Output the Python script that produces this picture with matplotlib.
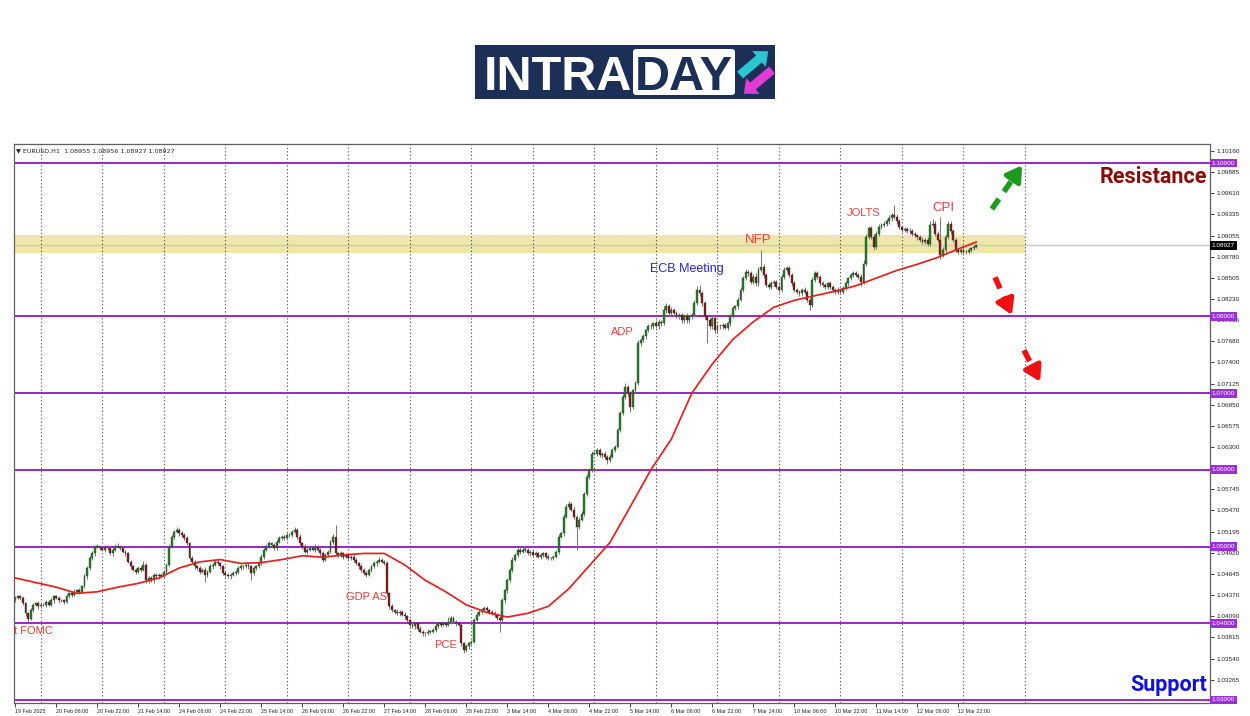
import matplotlib
matplotlib.use("Agg")
import matplotlib.pyplot as plt
import matplotlib.transforms as mtransforms
from matplotlib.patches import Rectangle, FancyArrow, FancyBboxPatch
import numpy as np

# ---------------- data (EURUSD H1) ----------------
first_open = 1.0431
close = [
    1.0433,1.0435,1.0433,1.0426,1.0413,1.0406,1.0417,1.0424,1.0426,1.0422,1.0424,1.0424,1.0428,1.0424,1.0430,1.0435,
    1.0433,1.0430,1.0430,1.0428,1.0435,1.0439,1.0437,1.0441,1.0443,1.0441,1.0448,1.0461,1.0472,1.0485,1.0491,1.0500,
    1.0500,1.0498,1.0496,1.0500,1.0498,1.0491,1.0496,1.0500,1.0500,1.0498,1.0493,1.0491,1.0480,1.0474,1.0470,1.0467,
    1.0472,1.0470,1.0476,1.0456,1.0459,1.0456,1.0463,1.0461,1.0463,1.0461,1.0467,1.0476,1.0500,1.0513,1.0519,1.0522,
    1.0517,1.0515,1.0511,1.0504,1.0485,1.0480,1.0474,1.0472,1.0467,1.0470,1.0463,1.0467,1.0474,1.0476,1.0480,1.0478,
    1.0474,1.0465,1.0463,1.0461,1.0463,1.0465,1.0467,1.0472,1.0474,1.0474,1.0476,1.0474,1.0465,1.0472,1.0474,1.0478,
    1.0487,1.0496,1.0500,1.0504,1.0502,1.0498,1.0506,1.0511,1.0513,1.0511,1.0515,1.0515,1.0519,1.0522,1.0513,1.0504,
    1.0500,1.0493,1.0496,1.0498,1.0496,1.0500,1.0496,1.0491,1.0483,1.0489,1.0493,1.0506,1.0513,1.0491,1.0489,1.0491,
    1.0487,1.0489,1.0485,1.0487,1.0483,1.0478,1.0474,1.0470,1.0465,1.0463,1.0470,1.0474,1.0478,1.0480,1.0483,1.0480,
    1.0478,1.0439,1.0422,1.0417,1.0415,1.0413,1.0415,1.0411,1.0409,1.0404,1.0398,1.0396,1.0400,1.0393,1.0389,1.0387,
    1.0387,1.0389,1.0389,1.0391,1.0396,1.0400,1.0398,1.0400,1.0398,1.0402,1.0407,1.0402,1.0400,1.0398,1.0374,1.0365,
    1.0370,1.0374,1.0376,1.0404,1.0411,1.0415,1.0417,1.0420,1.0417,1.0415,1.0413,1.0411,1.0407,1.0404,1.0430,1.0443,
    1.0456,1.0470,1.0483,1.0489,1.0496,1.0493,1.0496,1.0496,1.0491,1.0493,1.0489,1.0491,1.0487,1.0489,1.0491,1.0487,
    1.0485,1.0485,1.0487,1.0493,1.0513,1.0517,1.0539,1.0552,1.0556,1.0548,1.0539,1.0526,1.0535,1.0543,1.0569,1.0591,
    1.0600,1.0621,1.0621,1.0626,1.0619,1.0621,1.0617,1.0613,1.0617,1.0626,1.0630,1.0652,1.0674,1.0695,1.0708,1.0700,
    1.0682,1.0704,1.0713,1.0765,1.0769,1.0774,1.0782,1.0787,1.0787,1.0791,1.0787,1.0793,1.0791,1.0808,1.0813,1.0804,
    1.0808,1.0804,1.0800,1.0802,1.0795,1.0800,1.0795,1.0800,1.0802,1.0817,1.0835,1.0830,1.0817,1.0800,1.0795,1.0787,
    1.0798,1.0782,1.0787,1.0787,1.0789,1.0785,1.0791,1.0800,1.0811,1.0813,1.0822,1.0835,1.0850,1.0858,1.0856,1.0845,
    1.0852,1.0843,1.0861,1.0865,1.0854,1.0841,1.0839,1.0843,1.0845,1.0839,1.0835,1.0852,1.0861,1.0863,1.0854,1.0843,
    1.0835,1.0832,1.0830,1.0835,1.0832,1.0822,1.0815,1.0848,1.0856,1.0852,1.0843,1.0841,1.0839,1.0843,1.0839,1.0835,
    1.0832,1.0835,1.0832,1.0837,1.0843,1.0850,1.0854,1.0856,1.0854,1.0852,1.0845,1.0869,1.0904,1.0915,1.0904,1.0891,
    1.0908,1.0917,1.0919,1.0921,1.0924,1.0928,1.0932,1.0930,1.0924,1.0917,1.0913,1.0914,1.0912,1.0911,1.0908,1.0906,
    1.0903,1.0900,1.0897,1.0900,1.0895,1.0919,1.0921,1.0908,1.0900,1.0880,1.0887,1.0904,1.0921,1.0911,1.0900,1.0887,
    1.0884,1.0887,1.0884,1.0884,1.0887,1.0889,1.0891,1.08927,
]
# upper / lower wick length beyond the body, in pips
up_wick = [
    3,2,2,3,2,2,3,2,2,3,2,3,2,2,3,2, 2,3,2,2,3,2,2,3,2,3,2,3,2,3,3,2,
    3,2,3,2,2,3,2,3,4,2,3,2,2,3,2,2, 3,2,5,2,3,2,2,3,2,2,3,2,3,2,3,3,
    2,3,2,3,2,3,2,2,3,2,3,2,3,2,2,3, 2,2,3,2,2,3,2,2,3,2,3,2,2,3,2,3,
    3,2,3,3,2,3,2,3,2,2,3,2,3,4,2,3, 2,3,2,3,2,3,2,2,3,2,3,3,3,15,2,3,
    2,3,2,2,3,2,2,3,2,3,2,2,3,3,4,2, 3,3,2,3,2,3,2,2,3,2,2,3,2,2,3,2,
    2,3,2,3,5,3,2,3,2,6,3,2,2,3,2,2, 3,2,2,3,3,2,3,2,3,2,2,3,2,2,3,2,
    3,2,3,2,3,3,4,3,2,3,2,3,2,3,2,2, 3,2,2,3,3,2,3,4,3,2,3,2,3,3,2,3,
    3,3,4,3,3,2,3,2,3,3,2,3,3,4,5,3, 3,2,3,4,3,3,2,3,3,2,4,3,2,5,4,3,
    4,3,3,2,3,3,4,2,3,4,5,6,3,3,2,3, 3,2,3,3,2,3,2,3,3,2,3,3,3,4,3,3,
    3,4,3,22,3,3,2,3,3,2,3,3,4,3,3,2, 3,2,3,2,3,3,2,3,3,3,2,3,3,2,3,2,
    2,3,2,3,3,2,3,3,3,2,3,4,4,3,3,3, 3,4,3,3,3,4,3,13,3,3,2,3,2,3,3,2,
    2,3,3,2,3,5,6,3,3,30,3,3,4,3,3,2, 2,2,2,3,2,2,2,2,
]
dn_wick = [
    3,2,3,2,3,4,2,3,2,3,2,2,3,2,2,3, 2,3,2,3,2,2,3,2,2,3,2,2,3,2,2,3,
    2,3,2,3,2,2,3,2,2,3,2,3,2,3,2,3, 2,3,2,3,4,2,3,2,3,2,2,3,2,2,3,2,
    3,2,3,2,3,2,3,2,3,2,9,3,2,3,2,2, 3,2,3,2,3,2,2,3,2,3,2,3,9,2,3,2,
    2,3,2,2,3,2,3,2,2,3,2,2,3,2,3,2, 3,2,3,2,2,3,2,3,3,2,3,2,3,2,3,2,
    3,2,3,2,3,2,3,3,2,3,2,3,2,3,2,2, 2,3,3,2,3,2,3,2,3,2,3,2,3,3,2,3,
    3,2,3,2,3,2,3,2,3,2,3,2,3,2,4,4, 3,3,2,2,3,2,3,2,2,3,2,3,3,15,2,3,
    3,2,3,2,2,3,2,3,2,3,2,3,2,3,2,3, 2,3,3,2,3,2,3,2,3,2,3,30,3,2,3,3,
    3,3,2,3,2,3,3,5,3,2,3,2,3,3,3,4, 6,3,2,3,3,2,3,2,3,3,2,3,3,2,3,3,
    3,3,2,3,3,3,4,3,3,3,2,3,3,4,30,3, 3,4,3,3,3,2,3,3,2,3,3,2,3,3,3,3,
    3,3,3,3,4,3,3,3,3,3,3,3,3,3,3,3, 3,3,3,3,3,3,7,3,3,3,3,3,3,3,3,3,
    3,3,3,3,3,3,3,3,3,3,5,3,3,3,3,4, 3,3,3,3,3,3,3,3,3,3,3,3,3,3,3,3,
    3,3,3,3,3,3,3,3,3,5,3,3,3,3,3,3, 3,3,3,3,2,3,3,2,
]
# moving average (red line), sampled every 8 bars
ma_idx = list(range(0, 369, 8)) + [375]
ma_val = [1.0459,1.0453,1.0447,1.0439,1.0441,1.0447,1.0452,1.0459,1.0472,1.0480,1.0483,1.0478,
          1.0479,1.0483,1.0488,1.0486,1.0489,1.0491,1.0491,1.0476,1.0456,1.0441,1.0424,1.0414,
          1.0408,1.0413,1.0422,1.0445,1.0475,1.0505,1.0552,1.0600,1.0640,1.0700,1.0738,1.0770,
          1.0793,1.0812,1.0821,1.0827,1.0833,1.0840,1.0850,1.0860,1.0868,1.0877,1.0888,1.0897]

levels = [1.10, 1.08, 1.07, 1.06, 1.05, 1.04, 1.03]
zone_low, zone_high = 1.0883, 1.0906
last_price = 1.08927
ytick_vals = [1.10160,1.09885,1.09610,1.09335,1.09055,1.08780,1.08505,1.08230,1.07955,1.07680,
              1.07400,1.07125,1.06850,1.06575,1.06300,1.05745,1.05470,1.05195,1.04920,
              1.04645,1.04370,1.04090,1.03815,1.03540,1.03265]
date_labels = ["19 Feb 2025","20 Feb 06:00","20 Feb 22:00","21 Feb 14:00","24 Feb 06:00",
               "24 Feb 22:00","25 Feb 14:00","26 Feb 06:00","26 Feb 22:00","27 Feb 14:00",
               "28 Feb 06:00","28 Feb 22:00","3 Mar 14:00","4 Mar 06:00","4 Mar 22:00",
               "5 Mar 14:00","6 Mar 06:00","6 Mar 22:00","7 Mar 14:00","10 Mar 06:00",
               "10 Mar 22:00","11 Mar 14:00","12 Mar 06:00","12 Mar 22:00"]
RED_T = "#e8413c"
BLUE_T = "#2424e0"
events = [
    ("t FOMC", -0.6, 1.0390, RED_T, 8, "left"),
    ("GDP AS", 137, 1.0434, RED_T, 8, "center"),
    ("PCE", 168, 1.0372, RED_T, 8, "center"),
    ("ADP", 237, 1.0780, RED_T, 8, "center"),
    ("ECB Meeting", 262, 1.0862, BLUE_T, 9, "center"),
    ("NFP", 290, 1.0900, RED_T, 9.5, "center"),
    ("JOLTS", 331, 1.0935, RED_T, 8, "center"),
    ("CPI", 362, 1.0941, RED_T, 9.5, "center"),
]
arrows = [
    ((381.1, 1.0940), (392.9, 1.0997), "#1e9b1e"),
    ((382.3, 1.0851), (388.9, 1.0802), "#ee1111"),
    ((393.6, 1.0756), (399.9, 1.0715), "#ee1111"),
]

# ---------------- figure ----------------
W, H = 1250, 716
fig = plt.figure(figsize=(W / 100, H / 100), dpi=100)
ax = fig.add_axes([14 / W, (H - 703) / H, 1196 / W, 559 / H])
ax.set_xlim(-0.5, 466.2)
ax.set_ylim(1.0296, 1.10248)

n = len(close)
x = np.arange(n)
c = np.array(close)
o = np.array([first_open] + close[:-1])
hi = np.maximum(o, c) + np.array(up_wick) * 1e-4
lo = np.minimum(o, c) - np.array(dn_wick) * 1e-4

# support / resistance zone and levels
ax.axhspan(zone_low, zone_high, xmin=0, xmax=(394 + 0.5) / 466.7, color="#efe7a9", zorder=0.5, lw=0)
ax.axhline(last_price, color="#c8c8c8", lw=1.0, zorder=0.6)
for lv in levels:
    ax.axhline(lv, color="#9628c8", lw=1.4, zorder=1)

# dotted day grid
for g in range(10, 395, 24):
    ax.axvline(g, color="#444444", lw=0.8, ls=(0, (1, 2.2)), zorder=0.8)

# candles
ax.vlines(x, lo, hi, colors="#7a7a7a", lw=0.75, zorder=2)
bull = c >= o
cols = np.where(bull, "#1f8a1f", "#8b1a1a")
ax.bar(x, np.maximum(np.abs(c - o), 0.00004), bottom=np.minimum(o, c), width=0.74,
       color=cols, edgecolor="#222222", linewidth=0.25, zorder=3)

# moving average
ax.plot(ma_idx, ma_val, color="#e52020", lw=1.25, zorder=4)

# event labels
for txt, bx, py, col, fs, ha in events:
    ax.text(bx, py, txt, color=col, fontsize=fs, ha=ha, va="center",
            family="Liberation Sans", zorder=6)

ax.text(465, 1.0982, "Resistance", color="#8b0a0a", fontsize=15.5, fontweight="bold",
        family="Roboto", ha="right", va="center", zorder=6)
ax.text(465, 1.0320, "Support", color="#1010e0", fontsize=15.5, fontweight="bold",
        family="Roboto", ha="right", va="center", zorder=6)

# dashed direction arrows
for (x0, y0), (x1, y1), col in arrows:
    xm, ym = x0 + 0.72 * (x1 - x0), y0 + 0.72 * (y1 - y0)
    ax.plot([x0, xm], [y0, ym], color=col, lw=4, ls=(0, (2.2, 1.6)), solid_capstyle="butt",
            dash_capstyle="butt", zorder=6)
    ax.annotate("", xy=(x1, y1), xytext=(xm, ym),
                arrowprops=dict(arrowstyle="-|>,head_length=0.9,head_width=0.55", lw=3.5,
                                color=col, shrinkA=0, shrinkB=0), zorder=6)

# axes styling
for sp in ax.spines.values():
    sp.set_color("#606060")
    sp.set_linewidth(0.9)
ax.yaxis.tick_right()
ax.set_yticks(ytick_vals)
ax.set_yticklabels([f"{v:.5f}" for v in ytick_vals], family="Liberation Sans")
ax.tick_params(axis="y", labelsize=4.6, length=3, width=0.6, pad=2, colors="#222222")
ax.set_xticks(range(0, 16 * len(date_labels), 16))
ax.set_xticklabels(date_labels, ha="left", family="Liberation Sans")
ax.tick_params(axis="x", labelsize=3.9, length=3, width=0.6, pad=1.5, colors="#222222")

# highlighted price labels on the right axis
bt = mtransforms.blended_transform_factory(ax.transAxes, ax.transData)
for lv in levels:
    ax.text(1.0015, lv, f"{lv:.5f}", transform=bt, fontsize=4.6, color="white", ha="left",
            va="center", family="Liberation Sans",
            bbox=dict(boxstyle="square,pad=0.3", fc="#9b30d9", ec="none"),
            clip_on=False, zorder=10)
ax.text(1.0015, last_price, f"{last_price:.5f}", transform=bt, fontsize=4.6, color="white",
        ha="left", va="center", family="Liberation Sans",
        bbox=dict(boxstyle="square,pad=0.3", fc="#000000", ec="none"),
        clip_on=False, zorder=10)

# header
ax.text(0.002, 0.992, "\u25BC EURUSD,H1  1.08955 1.08956 1.08927 1.08927", transform=ax.transAxes,
        fontsize=4.6, ha="left", va="top", color="#222222", zorder=10)

# ---------------- logo ----------------
lg = fig.add_axes([475 / W, 1 - 99 / H, 300 / W, 54 / H])
lg.set_xlim(0, 300)
lg.set_ylim(54, 0)
lg.axis("off")
NAVY = "#1b2f57"
lg.add_patch(Rectangle((0, 0), 300, 54, fc=NAVY, ec="none"))
lg.text(9, 45, "INTRA", color="white", fontsize=35, fontweight="bold",
        family="Liberation Sans", ha="left", va="baseline")
lg.add_patch(FancyBboxPatch((158, 4), 102, 46, boxstyle="round,pad=0,rounding_size=3",
                            fc="white", ec="none"))
lg.text(209, 45, "DAY", color=NAVY, fontsize=35, fontweight="bold",
        family="Liberation Sans", ha="center", va="baseline")
lg.add_patch(FancyArrow(265, 30, 19, -16, width=9, head_width=21, head_length=12,
                        length_includes_head=False, fc="#2cc6d3", ec="none"))
lg.add_patch(FancyArrow(297, 25, -19, 16, width=9, head_width=21, head_length=12,
                        length_includes_head=False, fc="#e33ad5", ec="none"))

fig.savefig("out.png", dpi=100, facecolor="white")
